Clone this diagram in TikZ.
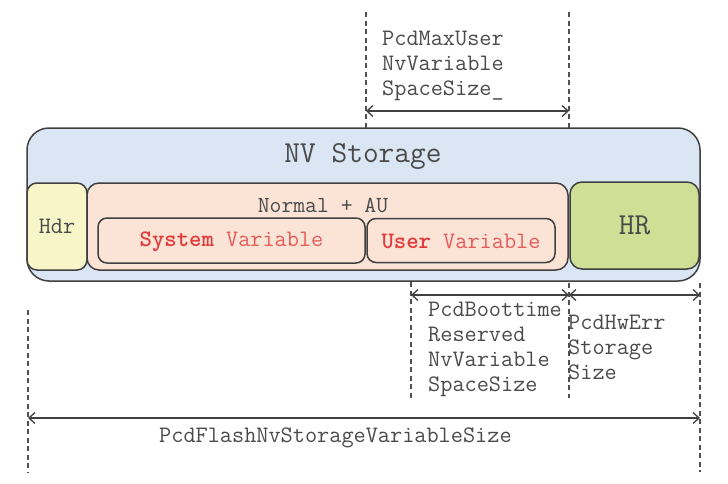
\documentclass[tikz,border=0pt]{standalone}
\usepackage{fontspec}
\renewcommand{\familydefault}{\ttdefault}
\usetikzlibrary{arrows.meta}
\definecolor{edge}{HTML}{404040}
\definecolor{txt}{HTML}{4A4A4A}
\definecolor{bluefill}{HTML}{DAE6F4}
\definecolor{hdrfill}{HTML}{F8F6C8}
\definecolor{normfill}{HTML}{FBE3D6}
\definecolor{hrfill}{HTML}{CFE096}
\definecolor{redA}{HTML}{E23A3A}
\definecolor{redB}{HTML}{E45C5C}
\definecolor{dashc}{HTML}{505050}
\tikzset{
  box/.style={draw=edge, line width=1.5pt, anchor=north west, inner sep=0pt, outer sep=0pt},
  guide/.style={draw=dashc, line width=1.2pt, dash pattern=on 5pt off 3.5pt},
  dim/.style={draw=edge, line width=1.3pt, {Straight Barb[length=6pt,width=11pt,line width=1.3pt]}-{Straight Barb[length=6pt,width=11pt,line width=1.3pt]}},
  lbl/.style={text=txt, font=\fontsize{23.6}{24.8}\selectfont, inner sep=0pt, align=left},
}
\begin{document}
\begin{tikzpicture}[x=1pt,y=-1pt]
\useasboundingbox (0,0) rectangle (728,483);
% boxes
\node[box, fill=bluefill, rounded corners=22pt, minimum width=673pt, minimum height=153pt] (storage) at (27,128) {};
\node[text=txt, font=\fontsize{30.5}{32}\selectfont, inner sep=0pt] (storagelbl) at (363,156) {NV Storage};
\node[box, fill=hdrfill, rounded corners=10pt, minimum width=60pt, minimum height=87pt] (hdr) at (27,183) {};
\node[text=txt, font=\fontsize{23.6}{24}\selectfont, inner sep=0pt] (hdrlbl) at (hdr.center) {Hdr};
\node[box, fill=normfill, rounded corners=12pt, minimum width=481pt, minimum height=87pt] (normal) at (87,183) {};
\node[text=txt, font=\fontsize{23}{24}\selectfont, inner sep=0pt] (normallbl) at (323,205) {Normal + AU};
\node[box, fill=hrfill, rounded corners=12pt, minimum width=129pt, minimum height=87pt] (hr) at (570,182) {};
\node[text=txt, font=\fontsize{30.5}{32}\selectfont, inner sep=0pt] (hrlbl) at (hr.center) {HR};
\node[box, fill=normfill, rounded corners=9pt, minimum width=267pt, minimum height=45pt] (sysvar) at (98,218) {};
\node[font=\fontsize{23.6}{24}\selectfont, inner sep=0pt] (syslbl) at ([yshift=-1pt]sysvar.center) {\textcolor{redA}{\textbf{System}} \textcolor{redB}{Variable}};
\node[box, fill=normfill, rounded corners=9pt, minimum width=188pt, minimum height=44pt] (uservar) at (367,218.5) {};
\node[font=\fontsize{23.6}{24}\selectfont, inner sep=0pt] (userlbl) at ([yshift=-1pt]uservar.center) {\textcolor{redA}{\textbf{User}} \textcolor{redB}{Variable}};
% guide coordinates
\coordinate (t1a) at (366,12);  \coordinate (t1b) at (366,128);
\coordinate (t2a) at (569,12);  \coordinate (t2b) at (569,128);
\coordinate (b1a) at (411,282); \coordinate (b1b) at (411,398);
\coordinate (b2a) at (569,283); \coordinate (b2b) at (569,398);
\coordinate (b3a) at (700,283); \coordinate (b3b) at (700,472);
\coordinate (b0a) at (28,310);  \coordinate (b0b) at (28,472);
\draw[guide] (t1a) -- (t1b);
\draw[guide] (t2a) -- (t2b);
\draw[guide] (b1a) -- (b1b);
\draw[guide] (b2a) -- (b2b);
\draw[guide] (b3a) -- (b3b);
\draw[guide] (b0a) -- (b0b);
% dimension arrows
\coordinate (m1) at (366,111); \coordinate (m2) at (569,111);
\coordinate (r1) at (411,295); \coordinate (r2) at (569,295); \coordinate (r3) at (700,295);
\coordinate (f1) at (28,418);  \coordinate (f2) at (700,418);
\draw[dim] (m1) -- (m2);
\draw[dim] (r1) -- (r2);
\draw[dim] (r2) -- (r3);
\draw[dim] (f1) -- (f2);
% labels
\node[lbl, anchor=base west] (txtmax) at (382,95) {PcdMaxUser\\NvVariable\\SpaceSize\_};
\node[lbl, anchor=base west] (txtboot) at (428,391) {PcdBoottime\\Reserved\\NvVariable\\SpaceSize};
\node[lbl, anchor=base west] (txthw) at (568,379) {PcdHwErr\\Storage\\Size};
\node[lbl, anchor=base west] (txtflash) at (159,442) {PcdFlashNvStorageVariableSize};
\end{tikzpicture}
\end{document}
